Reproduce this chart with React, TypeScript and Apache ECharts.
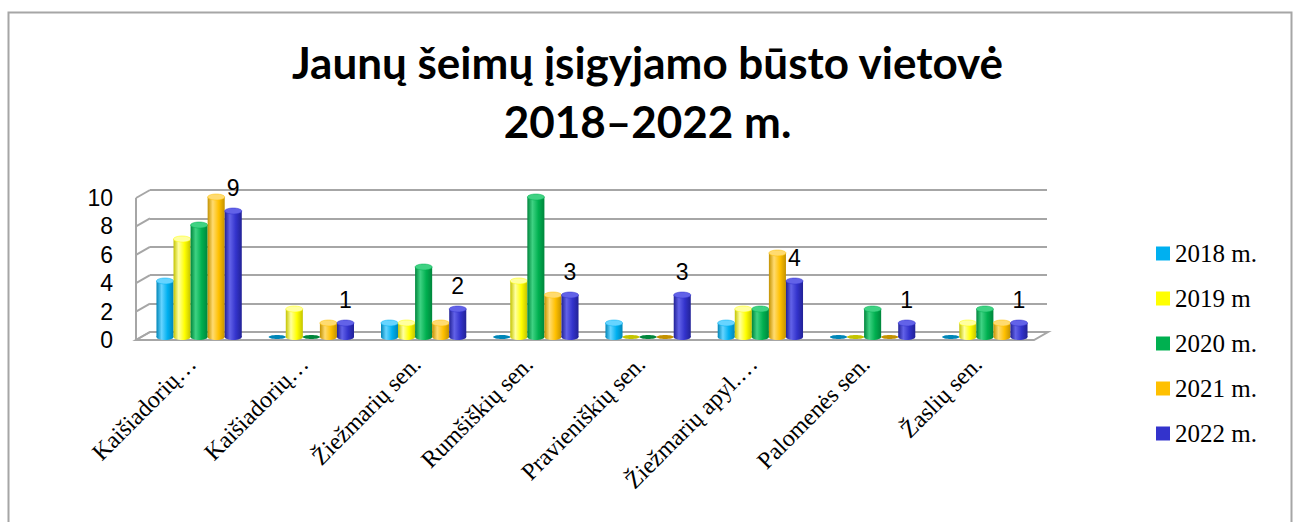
import React, { useEffect, useRef } from "react";
import * as echarts from "echarts";

const categories = [
  "Kaišiadorių…",
  "Kaišiadorių…",
  "Žiežmarių sen.",
  "Rumšiškių sen.",
  "Pravieniškių sen.",
  "Žiežmarių apyl.…",
  "Palomenės sen.",
  "Žaslių sen.",
];
const seriesNames = ["2018 m.", "2019 m", "2020 m.", "2021 m.", "2022 m."];
const values2018 = [4, 0, 1, 0, 1, 1, 0, 0];
const values2019 = [7, 2, 1, 4, 0, 2, 0, 1];
const values2020 = [8, 0, 5, 10, 0, 2, 2, 2];
const values2021 = [10, 1, 1, 3, 0, 6, 0, 1];
const values2022 = [9, 1, 2, 3, 3, 4, 1, 1];
const allValues = [values2018, values2019, values2020, values2021, values2022];
const yTicks = [0, 2, 4, 6, 8, 10];
const titleText = "Jaunų šeimų įsigyjamo būsto vietovė\n2018–2022 m.";

const palette = [
  { base: "#00B0F0", light: "#66D4FF", dark: "#0086B8" },
  { base: "#FFFF00", light: "#FFFFA0", dark: "#C4C400" },
  { base: "#00B050", light: "#3FD283", dark: "#00863C" },
  { base: "#FFC000", light: "#FFDB70", dark: "#C49200" },
  { base: "#3333CC", light: "#6262E8", dark: "#222296" },
];

export default function App() {
  const ref = useRef<HTMLDivElement>(null);

  useEffect(() => {
    if (!ref.current) return;
    const chart = echarts.init(ref.current, null, { renderer: "svg" });

    const barSeries = allValues.map((vals, si) => ({
      name: seriesNames[si],
      type: "custom",
      xAxisIndex: 2,
      yAxisIndex: 2,
      z: 5,
      itemStyle: { color: palette[si].base },
      encode: { x: 0, y: 1 },
      data: vals.map((v, i) => [i, v]),
      renderItem: (params: any, api: any) => {
        const idx = api.value(0);
        const val = api.value(1);
        const base = api.coord([idx, 0]);
        const top = api.coord([idx, val]);
        const band = api.size([1, 0])[0];
        const bw = band * 0.152;
        const x0 = base[0] - 2.5 * bw + si * bw;
        const cx = x0 + bw / 2;
        const rx = bw / 2;
        const ry = 3;
        const p = palette[si];
        const grad = new echarts.graphic.LinearGradient(0, 0, 1, 0, [
          { offset: 0, color: p.dark },
          { offset: 0.3, color: p.light },
          { offset: 0.65, color: p.base },
          { offset: 1, color: p.dark },
        ]);
        const children: any[] = [];
        if (val <= 0) {
          children.push({
            type: "ellipse",
            shape: { cx, cy: base[1], rx, ry: 2 },
            style: { fill: p.dark },
          });
        } else {
          children.push({
            type: "ellipse",
            shape: { cx, cy: base[1], rx, ry },
            style: { fill: grad },
          });
          children.push({
            type: "rect",
            shape: { x: x0, y: top[1], width: bw, height: base[1] - top[1] },
            style: { fill: grad },
          });
          children.push({
            type: "ellipse",
            shape: { cx, cy: top[1], rx, ry },
            style: { fill: p.light, stroke: p.base, lineWidth: 0.5 },
          });
        }
        if (si === 4) {
          children.push({
            type: "text",
            style: {
              text: String(val),
              x: cx,
              y: top[1] - ry - 9,
              align: "center",
              verticalAlign: "bottom",
              fontSize: 23,
              fontFamily: "'Liberation Sans', Arial, sans-serif",
              fill: "#000",
            },
          });
        }
        return { type: "group", children };
      },
    }));

    const wallSeries = {
      name: "wall",
      type: "custom",
      xAxisIndex: 0,
      yAxisIndex: 0,
      z: 1,
      silent: true,
      encode: { x: 0, y: 1 },
      data: yTicks.map((t) => [0, t]),
      renderItem: (params: any, api: any) => {
        const cs = params.coordSys;
        const v = api.value(1);
        const y = api.coord([0, v])[1];
        const dx = 14;
        const dy = 8;
        const children: any[] = [];
        if (v === 0) {
          const right = cs.x + cs.width;
          children.push({
            type: "polygon",
            shape: {
              points: [
                [cs.x, y],
                [right, y],
                [right + dx, y - dy],
                [cs.x + dx, y - dy],
              ],
            },
            style: { fill: "#FFFFFF", stroke: "#A6A6A6", lineWidth: 2 },
          });
          children.push({
            type: "line",
            shape: { x1: cs.x, y1: y, x2: cs.x, y2: cs.y },
            style: { stroke: "#A6A6A6", lineWidth: 2 },
          });
        }
        children.push({
          type: "line",
          shape: { x1: cs.x, y1: y, x2: cs.x + dx, y2: y - dy },
          style: { stroke: "#A6A6A6", lineWidth: 2 },
        });
        return { type: "group", children };
      },
    };

    const option: any = {
      animation: false,
      backgroundColor: "#FFFFFF",
      title: {
        text: titleText,
        left: "center",
        top: 27,
        textStyle: {
          fontFamily: "Lato, 'Open Sans', sans-serif",
          fontWeight: "bold",
          fontSize: 44,
          lineHeight: 59,
          color: "#000",
        },
      },
      legend: {
        data: seriesNames,
        orient: "vertical",
        left: 1151,
        top: 236,
        itemWidth: 14,
        itemHeight: 14,
        itemGap: 20,
        icon: "rect",
        textStyle: {
          fontFamily: "'Liberation Serif', 'Times New Roman', serif",
          fontSize: 25,
          lineHeight: 25,
          color: "#000",
        },
      },
      graphic: [
        {
          type: "rect",
          silent: true,
          shape: { x: 8.5, y: 12.5, width: 1283, height: 600 },
          style: { fill: "none", stroke: "#A6A6A6", lineWidth: 2 },
          z: 0,
        },
      ],
      grid: [
        { left: 136, right: 261, top: 198, bottom: 182 },
        { left: 150, right: 248, top: 190, bottom: 190 },
        { left: 143, right: 254, top: 197, bottom: 185 },
      ],
      xAxis: [
        {
          gridIndex: 0,
          type: "category",
          data: categories,
          axisLine: { show: false },
          axisTick: { show: false },
          axisLabel: {
            rotate: 45,
            margin: 20,
            interval: 0,
            fontFamily: "'Liberation Serif', 'Times New Roman', serif",
            fontSize: 24,
            color: "#000",
          },
        },
        {
          gridIndex: 1,
          type: "category",
          data: categories,
          show: false,
        },
        {
          gridIndex: 2,
          type: "category",
          data: categories,
          show: false,
        },
      ],
      yAxis: [
        {
          gridIndex: 0,
          type: "value",
          min: 0,
          max: 10,
          interval: 2,
          axisLine: { show: false },
          axisTick: { show: false },
          splitLine: { show: false },
          axisLabel: {
            margin: 23,
            fontFamily: "'Liberation Sans', Arial, sans-serif",
            fontSize: 23,
            color: "#000",
          },
        },
        {
          gridIndex: 1,
          type: "value",
          min: 0,
          max: 10,
          interval: 2,
          axisLine: { show: false },
          axisTick: { show: false },
          axisLabel: { show: false },
          splitLine: { show: true, lineStyle: { color: "#A6A6A6", width: 2 } },
        },
        {
          gridIndex: 2,
          type: "value",
          min: 0,
          max: 10,
          interval: 2,
          show: false,
          splitLine: { show: false },
        },
      ],
      series: [wallSeries, ...barSeries],
    };

    chart.setOption(option);
    return () => chart.dispose();
  }, []);

  return (
    <div
      ref={ref}
      style={{ position: "absolute", left: 0, top: 0, width: 1295, height: 522, background: "#fff" }}
    />
  );
}
